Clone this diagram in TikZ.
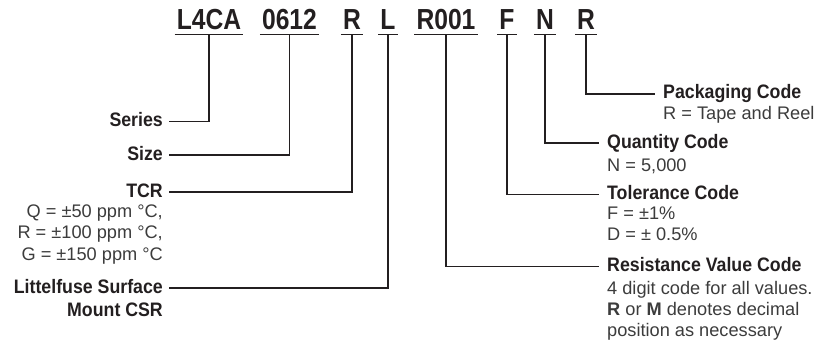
\documentclass[tikz,border=0pt]{standalone}
\usepackage{fontspec}
\setmainfont{Liberation Sans}
\newfontfamily\codefont[FakeStretch=0.85]{Liberation Sans}
\newfontfamily\labelfont[FakeStretch=0.91]{Liberation Sans}
\definecolor{ink}{HTML}{231F20}
\definecolor{greytxt}{HTML}{3C3C3C}

\tikzset{
    code/.style={font=\codefont\bfseries\fontsize{29}{30}\selectfont, text=ink, anchor=base,
        inner xsep=2pt, inner ysep=4pt, text depth=0pt},
    title/.style={font=\labelfont\bfseries\fontsize{19.5}{22}\selectfont, text=ink,
        inner xsep=6pt, inner ysep=0pt, text height=10pt, text depth=0pt},
    sub/.style={font=\fontsize{18.2}{21}\selectfont, text=greytxt, inner sep=0pt},
    leader/.style={draw=ink, line width=1.2pt}
}

\begin{document}
\begin{tikzpicture}[x=1pt, y=-1pt]
    \useasboundingbox (0,0) rectangle (814,345);

    % part number
    \node[code] (l4ca) at (209,30) {L4CA};
    \node[code] (c0612) at (289.5,30) {0612};
    \node[code] (tcrR) at (352,30) {R};
    \node[code] (csrL) at (388,30) {L};
    \node[code] (r001) at (446,30) {R001};
    \node[code] (tolF) at (507,30) {F};
    \node[code] (qtyN) at (545,30) {N};
    \node[code] (pkgR) at (586,30) {R};

    % underlines
    \foreach \c in {l4ca,c0612,tcrR,csrL,r001,tolF,qtyN,pkgR}
        \draw[leader] (\c.south west) -- (\c.south east);

    % left labels
    \node[title, anchor=east] (series) at (169,121.5) {Series};
    \node[title, anchor=east] (size) at (169,155) {Size};
    \node[title, anchor=east] (tcr) at (169,192) {TCR};
    \node[sub, anchor=base east] (tcrq) at (163,217) {Q = ±50 ppm °C,};
    \node[sub, anchor=base east] (tcrr) at (163,238.5) {R = ±100 ppm °C,};
    \node[sub, anchor=base east] (tcrg) at (163,260) {G = ±150 ppm °C};
    \node[title, anchor=east] (csr) at (169,288) {Littelfuse Surface};
    \node[title, anchor=base east] (csrb) at (169,316) {Mount CSR};

    % right labels
    \node[title, anchor=west, inner xsep=8pt] (pkg) at (655,94) {Packaging Code};
    \node[sub, anchor=base west] (pkgr) at (663,119.5) {R = Tape and Reel};
    \node[title, anchor=west, inner xsep=8pt] (qty) at (599,143) {Quantity Code};
    \node[sub, anchor=base west] (qtyn) at (607,171) {N = 5,000};
    \node[title, anchor=west, inner xsep=8pt] (tol) at (599,194.5) {Tolerance Code};
    \node[sub, anchor=base west] (tolf) at (607,219.3) {F = ±1\%};
    \node[sub, anchor=base west] (told) at (607,240) {D = ± 0.5\%};
    \node[title, anchor=west, inner xsep=8pt] (resist) at (599,266.7) {Resistance Value Code};
    \node[sub, anchor=base west] (resa) at (607,294) {4 digit code for all values.};
    \node[sub, anchor=base west] (resb) at (607,315.7) {{\bfseries R} or {\bfseries M} denotes decimal};
    \node[sub, anchor=base west] (resc) at (607,336) {position as necessary};

    % leaders
    \draw[leader] (l4ca.south) |- (series.east);
    \draw[leader] (c0612.south) |- (size.east);
    \draw[leader] (tcrR.south) |- (tcr.east);
    \draw[leader] (csrL.south) |- (csr.east);
    \draw[leader] (r001.south) |- (resist.west);
    \draw[leader] (tolF.south) |- (tol.west);
    \draw[leader] (qtyN.south) |- (qty.west);
    \draw[leader] (pkgR.south) |- (pkg.west);

\end{tikzpicture}
\end{document}
